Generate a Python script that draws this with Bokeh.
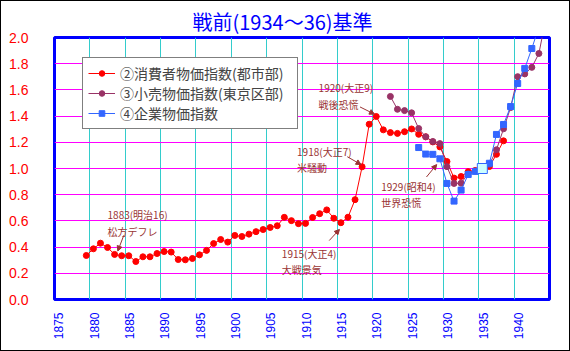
import math
from bokeh.plotting import figure
from bokeh.models import (Range1d, FixedTicker, CustomJSTickFormatter, PrintfTickFormatter,
                          Legend, LegendItem, Arrow, NormalHead, Label, InlineStyleSheet)
from bokeh.embed import file_html
from bokeh.resources import INLINE

# ---------------- data ----------------
title_text = "戦前(1934～36)基準"

cpi_label = "②消費者物価指数(都市部)"
cpi_years = list(range(1879, 1939))
cpi_values = [0.336, 0.387, 0.430, 0.397, 0.344, 0.334, 0.334, 0.290, 0.326, 0.326,
              0.351, 0.366, 0.362, 0.305, 0.303, 0.313, 0.341, 0.375, 0.427, 0.458,
              0.438, 0.489, 0.481, 0.499, 0.518, 0.534, 0.550, 0.563, 0.627, 0.602,
              0.579, 0.581, 0.626, 0.655, 0.684, 0.620, 0.586, 0.628, 0.762, 1.013,
              1.338, 1.397, 1.295, 1.274, 1.268, 1.281, 1.302, 1.261, 1.242, 1.203,
              1.165, 1.053, 0.927, 0.939, 0.976, 0.985, 1.000, 1.015, 1.108, 1.211]

retail_label = "③小売物価指数(東京区部)"
retail_years = list(range(1922, 1945))
retail_values = [1.550, 1.452, 1.442, 1.425, 1.305, 1.242, 1.206, 1.190, 1.014, 0.886,
                 0.888, 0.960, 0.980, 1.000, 1.030, 1.143, 1.303, 1.465, 1.701, 1.722,
                 1.772, 1.878, 2.150]

wpi_label = "④企業物価指数"
wpi_years = list(range(1926, 1944))
wpi_values = [1.160, 1.110, 1.108, 1.074, 0.886, 0.751, 0.835, 0.954, 0.978, 1.000,
              1.040, 1.260, 1.336, 1.473, 1.649, 1.764, 1.916, 2.080]
base_year = 1935

x_tick_years = list(range(1875, 1945, 5))
x_grid_years = list(range(1880, 1945, 5))
y_ticks = [0.0, 0.2, 0.4, 0.6, 0.8, 1.0, 1.2, 1.4, 1.6, 1.8, 2.0]

notes = ["1883(明治16)\n松方デフレ", "1920(大正9)\n戦後恐慌", "1918(大正7)\n米騒動",
         "1915(大正4)\n大戦景気", "1929(昭和4)\n世界恐慌"]
# annotation placement (text top-left, arrow start, arrow end) in data units
note_pos = [(1882.5, 0.705), (1912.35, 1.672), (1909.3, 1.19), (1907.15, 0.41), (1921.2, 0.92)]
arrow_pos = [((1884.8, 0.49), (1883.95, 0.37)),
             ((1918.2, 1.47), (1920.25, 1.415)),
             ((1916.4, 1.09), (1918.35, 1.03)),
             ((1913.85, 0.45), (1915.3, 0.535)),
             ((1927.6, 0.935), (1929.05, 1.03))]

RED = "#FF0000"
PURPLE = "#993366"
BLUE = "#3366FF"
NOTE = "#993333"
CJK = "Noto Sans CJK JP"

# ---------------- figure ----------------
p = figure(width=570, height=351, x_range=Range1d(1875, 1945), y_range=Range1d(0, 2.0),
           output_backend="svg", toolbar_location=None,
           min_border_left=54, min_border_right=21, min_border_top=37, min_border_bottom=52)
p.background_fill_color = "white"
p.border_fill_color = "white"
p.outline_line_color = "#0000FF"
p.outline_line_width = 3
p.stylesheets = [InlineStyleSheet(css=(
    ":host { position: relative; }"
    ":host::after { content: ''; position: absolute; left: 0; top: 0; right: 0; bottom: 0;"
    " border: 1px solid #000000; box-sizing: border-box; pointer-events: none; z-index: 10; }"))]

p.title.text = title_text
p.title.align = "left"
p.title.offset = 138
p.title.standoff = 3
p.title.text_font = CJK
p.title.text_font_size = "20px"
p.title.text_font_style = "normal"
p.title.text_color = "#0000FF"

# axes
xa = p.xaxis[0]
xa.ticker = FixedTicker(ticks=[y + 0.6 for y in x_tick_years])
xa.formatter = CustomJSTickFormatter(code="return String(Math.floor(tick));")
xa.major_label_orientation = math.pi / 2
xa.major_label_text_color = "#0000FF"
xa.major_label_text_font = "Liberation Sans"
xa.major_label_text_font_size = "12px"
xa.major_label_standoff = 7
xa.axis_line_color = None
xa.major_tick_line_color = None
xa.minor_tick_line_color = None

ya = p.yaxis[0]
ya.ticker = FixedTicker(ticks=y_ticks)
ya.formatter = PrintfTickFormatter(format="%.1f")
ya.major_label_text_color = RED
ya.major_label_text_font = "Liberation Sans"
ya.major_label_text_font_size = "14px"
ya.major_label_standoff = 20
ya.axis_line_color = None
ya.major_tick_line_color = None
ya.minor_tick_line_color = None

p.xgrid.ticker = FixedTicker(ticks=x_grid_years)
p.xgrid.grid_line_color = "#33CCCC"
p.xgrid.grid_line_width = 1
p.ygrid.grid_line_color = "#FF00FF"
p.ygrid.grid_line_width = 1

# series (category centred at year + 0.5)
cpi_x = [y + 0.5 for y in cpi_years]
retail_x = [y + 0.5 for y in retail_years]
wpi_x = [y + 0.5 for y in wpi_years]

r1l = p.line(cpi_x, cpi_values, line_color=RED, line_width=1)
r1p = p.scatter(cpi_x, cpi_values, marker="circle", size=6, fill_color=RED, line_color=RED)
r2l = p.line(retail_x, retail_values, line_color=PURPLE, line_width=1)
r2p = p.scatter(retail_x, retail_values, marker="circle", size=6, fill_color=PURPLE, line_color=PURPLE)
r3l = p.line(wpi_x, wpi_values, line_color=BLUE, line_width=1)
r3p = p.scatter(wpi_x, wpi_values, marker="square", size=6, fill_color=BLUE, line_color=BLUE)
bi = wpi_years.index(base_year)
p.scatter([wpi_x[bi]], [wpi_values[bi]], marker="square", size=10,
          fill_color="#CCFFFF", line_color=BLUE, line_width=1)

# annotations
for txt, (tx, ty), ((ax0, ay0), (ax1, ay1)) in zip(notes, note_pos, arrow_pos):
    p.add_layout(Label(x=tx, y=ty, text=txt, text_font=CJK, text_font_size="10px",
                       text_color=NOTE, text_align="left", text_baseline="top",
                       text_line_height=1.1))
    p.add_layout(Arrow(x_start=ax0, y_start=ay0, x_end=ax1, y_end=ay1,
                       line_color=NOTE, line_width=1,
                       end=NormalHead(size=5, fill_color=NOTE, line_color=NOTE)))

legend = Legend(items=[LegendItem(label=cpi_label, renderers=[r1l, r1p]),
                       LegendItem(label=retail_label, renderers=[r2l, r2p]),
                       LegendItem(label=wpi_label, renderers=[r3l, r3p])],
                location=(28, 170))
legend.border_line_color = "black"
legend.border_line_width = 1
legend.background_fill_color = "white"
legend.background_fill_alpha = 1
legend.label_text_font = CJK
legend.label_text_font_size = "14px"
legend.glyph_width = 27
legend.glyph_height = 14
legend.label_height = 14
legend.label_width = 172
legend.label_standoff = 5
legend.spacing = 0
legend.padding = 5
legend.margin = 0
p.add_layout(legend)

open("out.html", "w").write(file_html(p, INLINE))
